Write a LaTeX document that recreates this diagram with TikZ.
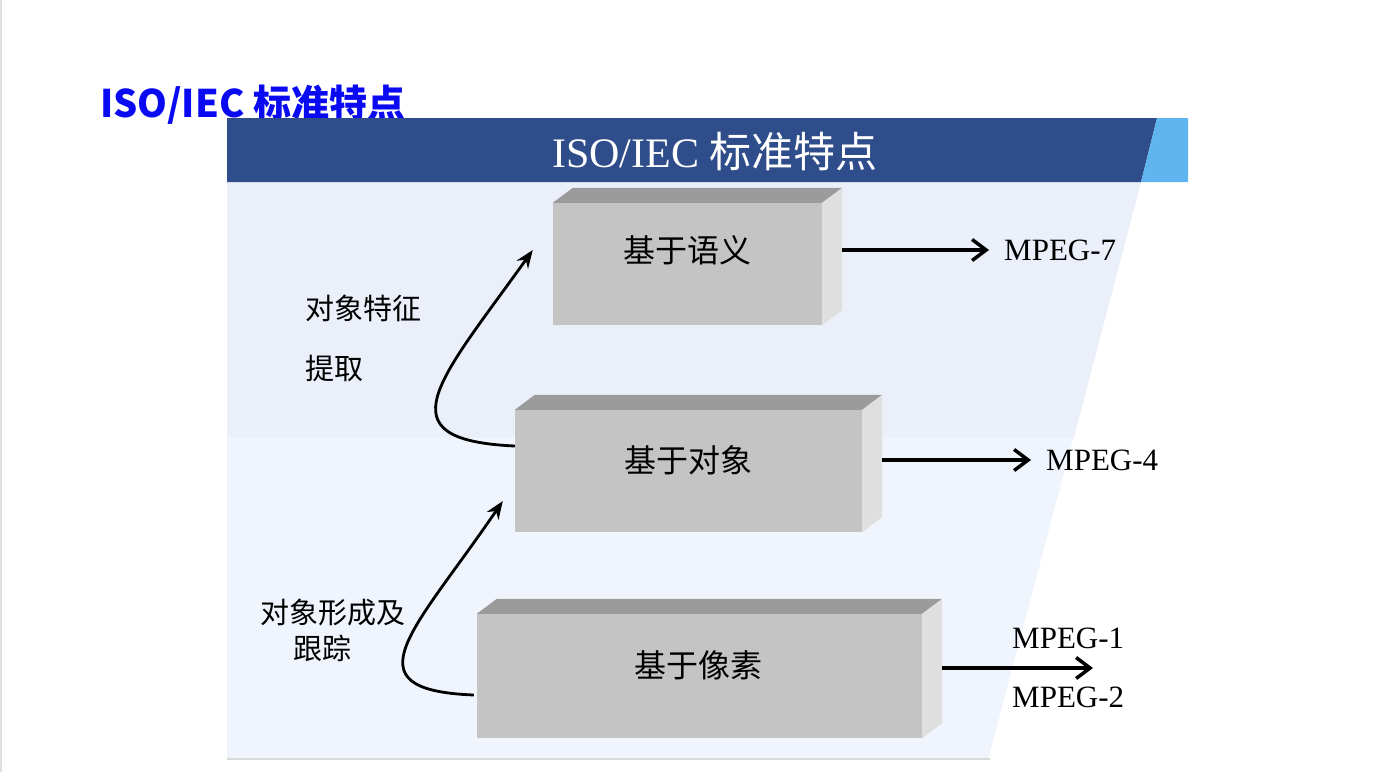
\documentclass[tikz,border=0pt]{standalone}
\usepackage{fontspec}
\usepackage{xcolor}
\usetikzlibrary{arrows.meta}
\setmainfont{Liberation Serif}
\newfontfamily\cjk{Noto Sans CJK SC}

\definecolor{bandblue}{HTML}{2E4D8A}
\definecolor{skyblue}{HTML}{60B4F0}
\definecolor{paneblue}{HTML}{F0F5FD}
\definecolor{gridblue}{HTML}{EAEFF9}
\definecolor{headblue}{HTML}{0A0AF2}
\definecolor{facefront}{HTML}{C4C4C4}
\definecolor{facetop}{HTML}{9B9B9B}
\definecolor{faceside}{HTML}{DFDFDF}

\begin{document}
\begin{tikzpicture}[x=1pt, y=-1pt,
      front/.style={fill=facefront, draw=none, inner sep=0pt},
      boxtext/.style={font=\cjk\fontsize{32}{38}\selectfont, inner sep=0pt},
      mpeg/.style={font=\fontsize{31}{36}\selectfont, anchor=west, inner sep=0pt},
      lbl/.style={font=\cjk\fontsize{29}{34}\selectfont, inner sep=0pt},
      outarrow/.style={-{Straight Barb[length=14pt,width=21pt]}, line width=3.5pt},
      uparrow/.style={-{Stealth[length=18pt,width=14pt]}, line width=2.8pt}
    ]
    \useasboundingbox (0,0) rectangle (1383,772);
    \fill[white] (0,0) rectangle (1383,772);
    \draw[black!12, line width=2pt] (1,0) -- (1,772);

    % heading above the slide
    \node[anchor=base west, inner sep=0pt, text=headblue,
          font=\cjk\bfseries\fontsize{38}{42}\selectfont] (head) at (100,117) {ISO/IEC 标准特点};

    % slide background
    \fill[paneblue] (227,182) -- (1141,182) -- (988,760) -- (227,760) -- cycle;
    \fill[gridblue] (227,182) -- (1141,182) -- (1074,437) -- (227,437) -- cycle;
    \draw[black!15, line width=1.5pt] (227,759) -- (990,759);
    \fill[bandblue] (227,118) -- (1157,118) -- (1141,182) -- (227,182) -- cycle;
    \fill[skyblue] (1157,118) -- (1188,118) -- (1188,182) -- (1141,182) -- cycle;
    \node[text=white, inner sep=0pt, font=\fontsize{42}{46}\selectfont] (band) at (715,152)
      {ISO/IEC {\cjk 标准特点}};

    % boxes
    \node[front, minimum width=269pt, minimum height=122pt] (b7) at (687.5,264) {};
    \node[front, minimum width=347pt, minimum height=122pt] (b4) at (688.5,471) {};
    \node[front, minimum width=445pt, minimum height=124pt] (b1) at (699.5,676) {};
    \foreach \b in {b7,b4,b1} {
      \fill[facetop] (\b.north west) -- ++(20,-15) -- ([shift={(20,-15)}]\b.north east)
        -- (\b.north east) -- cycle;
      \fill[faceside] (\b.north east) -- ++(20,-15) -- ([shift={(20,-15)}]\b.south east)
        -- (\b.south east) -- cycle;
    }
    \node[boxtext] (t7) at (687,250) {基于语义};
    \node[boxtext] (t4) at (688,460) {基于对象};
    \node[boxtext] (t1) at (698,665) {基于像素};

    % outputs
    \node[mpeg] (m7) at (1004,250) {MPEG-7};
    \node[mpeg] (m4) at (1046,460) {MPEG-4};
    \node[mpeg] (m1) at (1012,638) {MPEG-1};
    \node[mpeg] (m2) at (1012,697) {MPEG-2};
    \coordinate (m12) at (1093,668);
    \draw[outarrow] ([xshift=20pt]b7.east |- t7) -- ([xshift=-15pt]m7.west);
    \draw[outarrow] ([xshift=20pt]b4.east |- t4) -- ([xshift=-15pt]m4.west);
    \draw[outarrow] ([shift={(20,3)}]b1.east |- t1) -- (m12);

    % transitions
    \draw[uparrow] ([yshift=25pt]b4.west) .. controls (380,440) and (440,380)
      .. ([shift={(-20,-14)}]b7.west);
    \draw[uparrow] ([shift={(-3,19)}]b1.west) .. controls (345,690) and (415,630)
      .. ([shift={(-12,30)}]b4.west);
    \node[lbl, anchor=west] (f1) at (305,308) {对象特征};
    \node[lbl, anchor=west] (f2) at (305,368) {提取};
    \node[lbl] (g1) at (333,613) {对象形成及};
    \node[lbl] (g2) at (322,648) {跟踪};
\end{tikzpicture}
\end{document}
